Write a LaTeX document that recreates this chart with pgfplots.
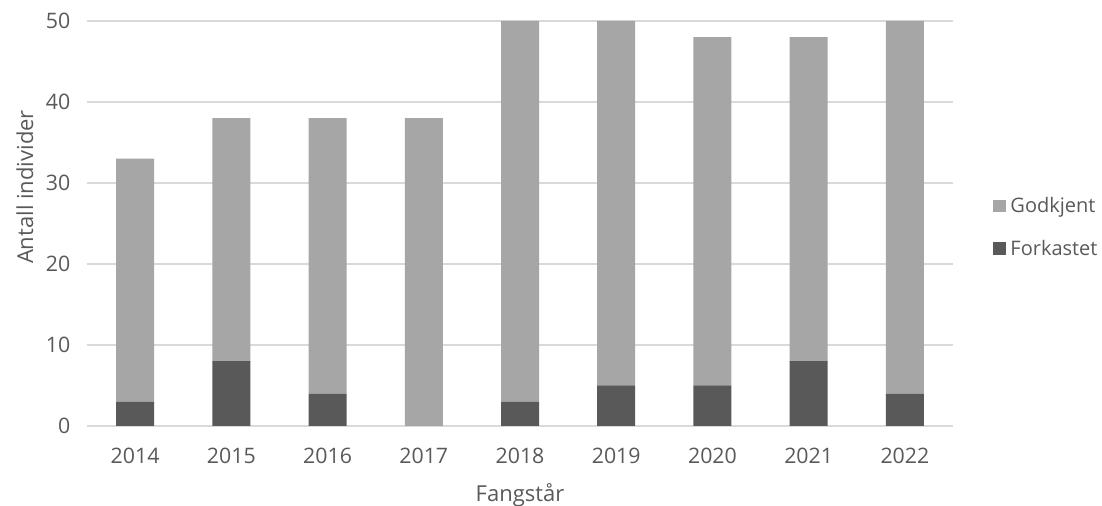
\documentclass[border=0pt]{standalone}
\usepackage{pgfplots}
\pgfplotsset{compat=1.18}
\usepackage{fontspec}
\setmainfont{Open Sans}
\definecolor{txt}{HTML}{595959}
\definecolor{gridc}{HTML}{D9D9D9}
\definecolor{godk}{HTML}{A6A6A6}
\definecolor{fork}{HTML}{595959}
\begin{document}
\begin{tikzpicture}[x=1pt,y=1pt]
\useasboundingbox (-65.25,-60) rectangle (761.25,319.5);
\begin{axis}[
  at={(0,0)}, anchor=south west,
  scale only axis,
  width=649.5pt, height=303.75pt,
  ybar stacked,
  bar width=28.5pt,
  xmin=-0.5, xmax=8.5,
  ymin=0, ymax=50,
  xtick=data,
  xticklabels={2014,2015,2016,2017,2018,2019,2020,2021,2022},
  ytick={0,10,20,30,40,50},
  axis line style={draw=none},
  major tick length=0pt,
  ymajorgrids,
  grid style={gridc, line width=1pt},
  font=\fontsize{16}{19}\selectfont,
  tick label style={txt, font=\fontsize{16}{19}\selectfont},
  /pgf/number format/assume math mode=true,
  yticklabel style={xshift=-9pt},
  xticklabel style={yshift=-13pt},
  xlabel={Fangstår},
  ylabel={Antall individer},
  label style={txt, font=\fontsize{16.5}{19}\selectfont},
  xlabel style={at={(0.5,0)}, anchor=center, yshift=-52pt},
  ylabel style={at={(0,0.59)}, anchor=center, rotate=0, yshift=46.5pt},
  reverse legend,
  legend style={draw=none, at={(1.046,0.49)}, anchor=west, fill=none,
    font=\fontsize{15}{18}\selectfont, text=txt,
    row sep=15pt, inner sep=0pt, cells={anchor=west},
    nodes={inner xsep=3.5pt}},
  legend image code/.code={\fill[#1] (0pt,-4.5pt) rectangle (9.5pt,5pt);},
  legend cell align=left,
]
% Forkastet (bottom) and Godkjent (top) per catch year
\addplot[fill=fork, draw=none] coordinates
  {(0,3) (1,8) (2,4) (3,0) (4,3) (5,5) (6,5) (7,8) (8,4)};
\addlegendentry{Forkastet}
\addplot[fill=godk, draw=none] coordinates
  {(0,30) (1,30) (2,34) (3,38) (4,47) (5,45) (6,43) (7,40) (8,46)};
\addlegendentry{Godkjent}
\end{axis}
\end{tikzpicture}
\end{document}
